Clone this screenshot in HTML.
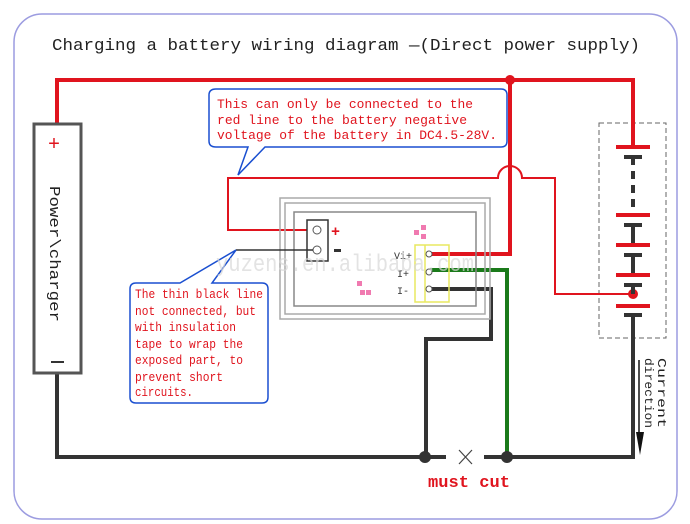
<!DOCTYPE html>
<html><head><meta charset="utf-8"><style>
html,body{margin:0;padding:0;background:#fff;}
svg{display:block;}
text{font-family:"Liberation Mono",monospace;}
</style></head><body>
<svg width="690" height="524" viewBox="0 0 690 524" xmlns="http://www.w3.org/2000/svg">
<rect x="14" y="14" width="663" height="505" rx="28" fill="none" stroke="#9c9ce0" stroke-width="1.5"/>
<text x="52" y="50" font-size="17" textLength="588" lengthAdjust="spacingAndGlyphs" fill="#222">Charging a battery wiring diagram —(Direct power supply)</text>

<rect x="599" y="123" width="67" height="215" fill="none" stroke="#666" stroke-width="1" stroke-dasharray="5,3"/>

<path d="M57 124 V80 H633 V147" fill="none" stroke="#e0141e" stroke-width="4"/>
<path d="M510 80 V254 H430" fill="none" stroke="#e0141e" stroke-width="4"/>
<circle cx="510" cy="80" r="5" fill="#e0141e"/>
<path d="M318 230 H228 V178 H498 A12 12 0 0 1 522 178 H555 V294 H633" fill="none" stroke="#e0141e" stroke-width="2"/>
<circle cx="633" cy="294" r="5" fill="#e0141e"/>

<g stroke-width="4">
<line x1="616" y1="147" x2="650" y2="147" stroke="#e0141e"/>
<line x1="624" y1="157" x2="642" y2="157" stroke="#333"/>
<line x1="633" y1="157" x2="633" y2="215" stroke="#333" stroke-dasharray="8,6"/>
<line x1="616" y1="215" x2="650" y2="215" stroke="#e0141e"/>
<line x1="624" y1="225" x2="642" y2="225" stroke="#333"/>
<line x1="633" y1="225" x2="633" y2="245" stroke="#333"/>
<line x1="616" y1="245" x2="650" y2="245" stroke="#e0141e"/>
<line x1="624" y1="255" x2="642" y2="255" stroke="#333"/>
<line x1="633" y1="255" x2="633" y2="275" stroke="#333"/>
<line x1="616" y1="275" x2="650" y2="275" stroke="#e0141e"/>
<line x1="624" y1="285" x2="642" y2="285" stroke="#333"/>
<line x1="633" y1="285" x2="633" y2="294" stroke="#333"/>
<line x1="616" y1="306" x2="650" y2="306" stroke="#e0141e"/>
<line x1="624" y1="315" x2="642" y2="315" stroke="#333"/>
</g>

<path d="M57 373 V457 H446" fill="none" stroke="#333" stroke-width="4"/>
<path d="M484 457 H633 V315" fill="none" stroke="#333" stroke-width="4"/>
<path d="M430 289 H491 V339 H426 V457" fill="none" stroke="#333" stroke-width="4"/>
<path d="M507 457 V270 H430" fill="none" stroke="#1a7a1a" stroke-width="4"/>
<circle cx="425" cy="457" r="6" fill="#333"/>
<circle cx="507" cy="457" r="6" fill="#333"/>
<path d="M459 450 L472 464 M472 450 L459 464" stroke="#444" stroke-width="1.2"/>
<text x="428" y="487" font-size="17" font-weight="bold" fill="#e0141e" textLength="82" lengthAdjust="spacingAndGlyphs">must cut</text>

<line x1="639" y1="360" x2="639" y2="440" stroke="#111" stroke-width="1.5"/>
<polygon points="636,432 644,432 640,455" fill="#111"/>
<text transform="translate(658,358) rotate(90)" font-size="12" fill="#222" textLength="70" lengthAdjust="spacingAndGlyphs">Current</text>
<text transform="translate(645,358) rotate(90)" font-size="12" fill="#222" textLength="70" lengthAdjust="spacingAndGlyphs">direction</text>

<rect x="34" y="124" width="47" height="249" fill="#fff" stroke="#555" stroke-width="3"/>
<text x="48" y="150" font-size="20" fill="#e0141e">+</text>
<line x1="51" y1="362" x2="64" y2="362" stroke="#333" stroke-width="2"/>
<text transform="translate(50,186) rotate(90)" font-size="15" fill="#222" textLength="136" lengthAdjust="spacingAndGlyphs">Power\charger</text>

<rect x="280" y="198" width="210" height="121" fill="none" stroke="#aaa" stroke-width="1.5"/>
<rect x="285" y="203" width="200" height="111" fill="none" stroke="#aaa" stroke-width="1.5"/>
<rect x="294" y="212" width="182" height="94" fill="none" stroke="#888" stroke-width="1.5"/>
<rect x="307" y="220" width="21" height="41" fill="#fff" stroke="#333" stroke-width="1.5"/>
<circle cx="317" cy="230" r="4" fill="#fff" stroke="#555"/>
<circle cx="317" cy="250" r="4" fill="#fff" stroke="#555"/>
<line x1="236" y1="250" x2="313" y2="250" stroke="#333" stroke-width="1.5"/>
<text x="331" y="236" font-size="15" font-weight="bold" fill="#e0141e">+</text>
<rect x="334" y="249" width="7" height="3" fill="#333"/>
<rect x="415" y="245" width="34" height="57" fill="none" stroke="#e8e860" stroke-width="1.5"/>
<line x1="425" y1="245" x2="425" y2="302" stroke="#e8e860" stroke-width="1.5"/>
<circle cx="429" cy="254" r="3" fill="#fff" stroke="#555"/>
<circle cx="429" cy="272" r="3" fill="#fff" stroke="#555"/>
<circle cx="429" cy="289" r="3" fill="#fff" stroke="#555"/>
<text x="394" y="259" font-size="10" fill="#333">Vi+</text>
<text x="397" y="277" font-size="10" fill="#333">I+</text>
<text x="397" y="294" font-size="10" fill="#333">I-</text>
<rect x="414" y="230" width="5" height="5" fill="#f07ab0"/><rect x="421" y="225" width="5" height="5" fill="#f07ab0"/><rect x="421" y="234" width="5" height="5" fill="#f07ab0"/>
<rect x="360" y="290" width="5" height="5" fill="#f07ab0"/><rect x="357" y="281" width="5" height="5" fill="#f07ab0"/><rect x="366" y="290" width="5" height="5" fill="#f07ab0"/>

<path d="M216 89 H501 Q507 89 507 95 V141 Q507 147 501 147 H265 L238 175 L248 147 H216 Q209 147 209 141 V95 Q209 89 216 89 Z" fill="#fff" stroke="#1a4fd0" stroke-width="1.5"/>
<text font-size="13" fill="#e0141e">
<tspan x="217" y="108" textLength="256" lengthAdjust="spacingAndGlyphs">This can only be connected to the</tspan>
<tspan x="217" y="124" textLength="250" lengthAdjust="spacingAndGlyphs">red line to the battery negative</tspan>
<tspan x="217" y="139" textLength="280" lengthAdjust="spacingAndGlyphs">voltage of the battery in DC4.5-28V.</tspan>
</text>

<path d="M136 283 H180 L236 250 L212 283 H262 Q268 283 268 289 V397 Q268 403 262 403 H136 Q130 403 130 397 V289 Q130 283 136 283 Z" fill="#fff" stroke="#1a4fd0" stroke-width="1.5"/>
<text font-size="13" fill="#e0141e">
<tspan x="135" y="298" textLength="128" lengthAdjust="spacingAndGlyphs">The thin black line</tspan>
<tspan x="135" y="315" textLength="121" lengthAdjust="spacingAndGlyphs">not connected, but</tspan>
<tspan x="135" y="331" textLength="101" lengthAdjust="spacingAndGlyphs">with insulation</tspan>
<tspan x="135" y="348" textLength="108" lengthAdjust="spacingAndGlyphs">tape to wrap the</tspan>
<tspan x="135" y="364" textLength="108" lengthAdjust="spacingAndGlyphs">exposed part, to</tspan>
<tspan x="135" y="381" textLength="88" lengthAdjust="spacingAndGlyphs">prevent short</tspan>
<tspan x="135" y="396" textLength="58" lengthAdjust="spacingAndGlyphs">circuits.</tspan>
</text>

<text x="216" y="271" font-size="24" fill="#d8d8d8" opacity="0.7" font-family="Liberation Sans" textLength="258" lengthAdjust="spacingAndGlyphs">yuzens.en.alibaba.com</text>
</svg>
</body></html>
